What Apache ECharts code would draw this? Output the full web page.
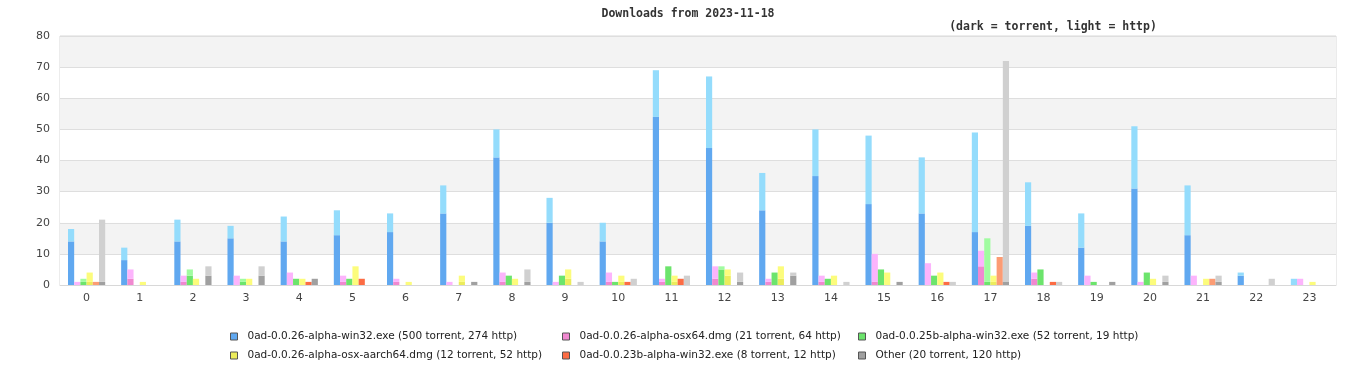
<!DOCTYPE html>
<html><head><meta charset="utf-8">
<script src="https://cdn.jsdelivr.net/npm/echarts@6/dist/echarts.min.js"></script>
<style>html,body{margin:0;padding:0;background:#fff}#c{width:1366px;height:380px}</style>
</head><body><div id="c"></div>
<script>
const hours = ['0','1','2','3','4','5','6','7','8','9','10','11','12','13','14','15','16','17','18','19','20','21','22','23'];
const yTicks = [0,10,20,30,40,50,60,70,80];

const win32Torrent = [14,8,14,15,14,16,17,23,41,20,14,54,44,24,35,26,23,17,19,12,31,16,3,0];
const win32Http    = [4,4,7,4,8,8,6,9,9,8,6,15,23,12,15,22,18,32,14,11,20,16,1,2];
const osx64Torrent = [0,2,1,0,0,1,1,0,1,0,1,1,2,1,1,1,0,6,2,0,0,0,0,0];
const osx64Http    = [1,3,2,3,4,2,1,1,3,1,3,1,4,1,2,9,7,5,2,3,1,3,0,2];
const w25bTorrent  = [1,0,3,1,2,2,0,0,3,3,1,6,5,4,2,5,3,1,5,1,4,0,0,0];
const w25bHttp     = [1,0,2,1,0,0,0,0,0,0,0,0,1,0,0,0,0,14,0,0,0,0,0,0];
const aarchTorrent = [1,0,0,0,0,0,0,1,0,2,1,1,3,2,0,0,0,1,0,0,0,0,0,0];
const aarchHttp    = [3,1,2,2,2,6,1,2,2,3,2,2,2,4,3,4,4,2,0,0,2,2,0,1];
const w23bTorrent  = [0,0,0,0,1,2,0,0,0,0,1,2,0,0,0,0,1,0,1,0,0,0,0,0];
const w23bHttp     = [1,0,0,0,0,0,0,0,0,0,0,0,0,0,0,0,0,9,0,0,0,2,0,0];
const otherTorrent = [1,0,3,3,2,0,0,1,1,0,0,0,1,3,0,1,0,1,0,1,1,1,0,0];
const otherHttp    = [20,0,3,3,0,0,0,0,4,1,2,3,3,1,1,0,1,71,1,0,2,2,2,0];

const groups = [
  {name:'0ad-0.0.26-alpha-win32.exe (500 torrent, 274 http)', t:win32Torrent, h:win32Http, dark:'#60a8f0', light:'#94dcfc'},
  {name:'0ad-0.0.26-alpha-osx64.dmg (21 torrent, 64 http)', t:osx64Torrent, h:osx64Http, dark:'#f088d0', light:'#fcb4fc'},
  {name:'0ad-0.0.25b-alpha-win32.exe (52 torrent, 19 http)', t:w25bTorrent, h:w25bHttp, dark:'#6ce46c', light:'#a0fca0'},
  {name:'0ad-0.0.26-alpha-osx-aarch64.dmg (12 torrent, 52 http)', t:aarchTorrent, h:aarchHttp, dark:'#ecec5c', light:'#fcfc7c'},
  {name:'0ad-0.0.23b-alpha-win32.exe (8 torrent, 12 http)', t:w23bTorrent, h:w23bHttp, dark:'#fc6c44', light:'#fc9c74'},
  {name:'Other (20 torrent, 120 http)', t:otherTorrent, h:otherHttp, dark:'#a0a0a0', light:'#d0d0d0'}
];

const series = [];
groups.forEach((g,i)=>{
  series.push({name:g.name, type:'bar', stack:'s'+i, data:g.t, itemStyle:{color:g.dark},
    barCategoryGap:'30%', barGap:'0%', emphasis:{disabled:true}});
  series.push({name:g.name+' http', type:'bar', stack:'s'+i, data:g.h, itemStyle:{color:g.light},
    barCategoryGap:'30%', barGap:'0%', emphasis:{disabled:true}});
});

const legendBase = {
  orient:'vertical', itemWidth:7, itemHeight:7, itemGap:8, icon:'rect',
  itemStyle:{borderColor:'#555', borderWidth:1},
  textStyle:{fontFamily:'DejaVu Sans', fontSize:10.5, color:'#222', padding:[0,0,0,5]},
  selectedMode:false, padding:0, top:331
};

const chart = echarts.init(document.getElementById('c'), null, {renderer:'canvas'});
chart.setOption({
  animation:false,
  backgroundColor:'#fff',
  title:[
    {text:'Downloads from 2023-11-18', left:683, top:3, textAlign:'center',
     textStyle:{fontFamily:'DejaVu Sans Mono', fontWeight:'bold', fontSize:11.5, color:'#333'}},
    {text:'(dark = torrent, light = http)', left:1048, top:16, textAlign:'center',
     textStyle:{fontFamily:'DejaVu Sans Mono', fontWeight:'bold', fontSize:11.5, color:'#333'}}
  ],
  legend:[
    Object.assign({}, legendBase, {left:230, data:[groups[0].name, groups[3].name]}),
    Object.assign({}, legendBase, {left:562, data:[groups[1].name, groups[4].name]}),
    Object.assign({}, legendBase, {left:858, data:[groups[2].name, groups[5].name]})
  ],
  grid:{left:60, right:30, top:36, bottom:95, show:true, borderColor:'#d8d8d8', borderWidth:1, backgroundColor:'transparent'},
  xAxis:{type:'category', data:hours,
    axisLine:{show:true, lineStyle:{color:'#d8d8d8'}}, axisTick:{show:false},
    axisLabel:{fontFamily:'DejaVu Sans', fontSize:11, color:'#444', margin:8}},
  yAxis:{type:'value', min:yTicks[0], max:yTicks[yTicks.length-1], interval:10,
    axisLine:{show:false}, axisTick:{show:false},
    axisLabel:{fontFamily:'DejaVu Sans', fontSize:11, color:'#444', margin:10},
    splitLine:{show:true, lineStyle:{color:'#dedede'}},
    splitArea:{show:true, areaStyle:{color:['#ffffff','#f3f3f3']}}},
  series:series
});
</script></body></html>
